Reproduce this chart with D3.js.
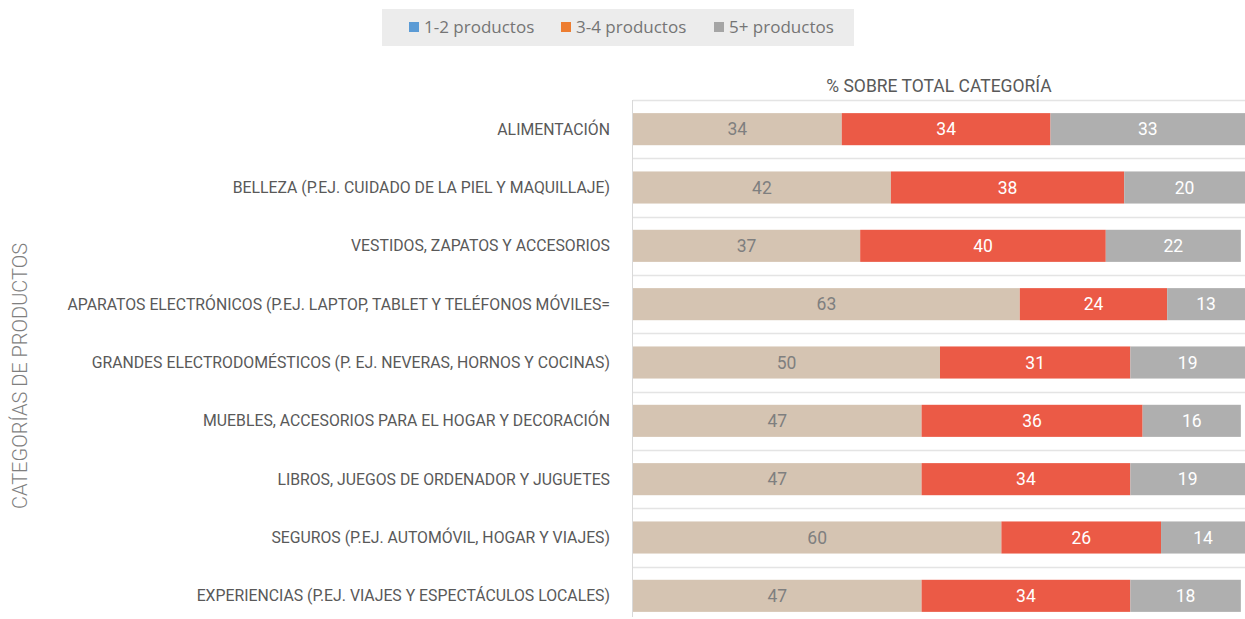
<!DOCTYPE html>
<html>
<head>
<meta charset="utf-8">
<script src="https://cdn.jsdelivr.net/npm/d3@7"></script>
<style>
  body { margin: 0; background: #fff; }
  svg { display: block; }
</style>
</head>
<body>
<div id="chart"></div>
<script>
const categories = [
  'ALIMENTACIÓN',
  'BELLEZA (P.EJ. CUIDADO DE LA PIEL Y MAQUILLAJE)',
  'VESTIDOS, ZAPATOS Y ACCESORIOS',
  'APARATOS ELECTRÓNICOS (P.EJ. LAPTOP, TABLET Y TELÉFONOS MÓVILES=',
  'GRANDES ELECTRODOMÉSTICOS (P. EJ. NEVERAS, HORNOS Y COCINAS)',
  'MUEBLES, ACCESORIOS PARA EL HOGAR Y DECORACIÓN',
  'LIBROS, JUEGOS DE ORDENADOR Y JUGUETES',
  'SEGUROS (P.EJ. AUTOMÓVIL, HOGAR Y VIAJES)',
  'EXPERIENCIAS (P.EJ. VIAJES Y ESPECTÁCULOS LOCALES)'
]
const p12 = [34, 42, 37, 63, 50, 47, 47, 60, 47]
const p34 = [34, 38, 40, 24, 31, 36, 34, 26, 34]
const p5 = [33, 20, 22, 13, 19, 16, 19, 14, 18]

const seriesNames = ['1-2 productos', '3-4 productos', '5+ productos']
const legendColors = ['#5b9bd5', '#ed7d31', '#a5a5a5']
const barColors = ['#d5c4b2', '#eb5a46', '#afafaf']
const labelColors = ['#7f7f7f', '#ffffff', '#ffffff']

const fullWidth = 1245
const fullHeight = 619

const margin = { top: 100, right: -2, bottom: 2, left: 633 },
  width = fullWidth - margin.left - margin.right,
  height = fullHeight - margin.top - margin.bottom

const svg = d3.select('#chart')
  .append('svg')
  .attr('width', fullWidth)
  .attr('height', fullHeight)

const g = svg.append('g')
  .attr('transform', 'translate(' + margin.left + ',' + margin.top + ')')

const rows = categories.map((c, i) => ({ cat: c, vals: [p12[i], p34[i], p5[i]] }))

const x = d3.scaleLinear().domain([0, 100]).range([0, width])
const y = d3.scaleBand().domain(categories).range([0, 525]).paddingInner(0.45).paddingOuter(0.225)

// horizontal separators
const step = y.step()
g.selectAll('line.sep')
  .data(d3.range(categories.length + 1))
  .enter().append('line')
  .attr('class', 'sep')
  .attr('x1', 0)
  .attr('x2', width)
  .attr('y1', d => Math.round(d * step) + 0.5)
  .attr('y2', d => Math.round(d * step) + 0.5)
  .attr('stroke', '#e4e4e4')
  .attr('stroke-width', 1.5)

// vertical axis line
g.append('line')
  .attr('x1', -0.5).attr('x2', -0.5)
  .attr('y1', 0).attr('y2', height)
  .attr('stroke', '#d9d9d9')

// stacked bars
const stack = d3.stack().keys([0, 1, 2]).value((d, k) => d.vals[k])
const layers = stack(rows)

layers.forEach((layer, k) => {
  const lg = g.append('g').attr('class', 'layer-' + k)
  lg.selectAll('rect')
    .data(layer)
    .enter().append('rect')
    .attr('x', d => x(d[0]))
    .attr('y', d => y(d.data.cat))
    .attr('width', d => x(d[1]) - x(d[0]))
    .attr('height', y.bandwidth())
    .attr('fill', barColors[k])
  lg.selectAll('text')
    .data(layer)
    .enter().append('text')
    .attr('x', d => (x(d[0]) + Math.min(x(d[1]), width - 2)) / 2)
    .attr('y', d => y(d.data.cat) + y.bandwidth() / 2)
    .attr('dy', '0.35em')
    .attr('text-anchor', 'middle')
    .attr('font-family', '"Liberation Sans Narrow", Roboto, sans-serif')
    .attr('font-size', 17.5)
    .attr('fill', labelColors[k])
    .text(d => d.data.vals[k])
})

// category labels
svg.append('g')
  .selectAll('text')
  .data(categories)
  .enter().append('text')
  .attr('x', 610)
  .attr('y', d => margin.top + y(d) + y.bandwidth() / 2)
  .attr('dy', '0.35em')
  .attr('text-anchor', 'end')
  .attr('font-family', 'Roboto, sans-serif')
  .attr('font-size', 15.8)
  .attr('fill', '#595959')
  .text(d => d)

// axis title
svg.append('text')
  .attr('transform', 'translate(27,376) rotate(-90)')
  .attr('text-anchor', 'middle')
  .attr('font-family', 'Roboto, sans-serif')
  .attr('font-weight', 300)
  .attr('font-size', 20)
  .attr('fill', '#7f7f7f')
  .text('CATEGORÍAS DE PRODUCTOS')

// top title
svg.append('text')
  .attr('x', 939)
  .attr('y', 92)
  .attr('text-anchor', 'middle')
  .attr('font-family', 'Roboto, sans-serif')
  .attr('font-size', 17.5)
  .attr('fill', '#595959')
  .text('% SOBRE TOTAL CATEGORÍA')

// legend
const legend = svg.append('g')
legend.append('rect')
  .attr('x', 382).attr('y', 9)
  .attr('width', 472).attr('height', 37)
  .attr('fill', '#ececec')

const legendX = [409, 561, 714]
seriesNames.forEach((s, i) => {
  legend.append('rect')
    .attr('x', legendX[i]).attr('y', 22)
    .attr('width', 10).attr('height', 10)
    .attr('fill', legendColors[i])
  legend.append('text')
    .attr('x', legendX[i] + 15)
    .attr('y', 27)
    .attr('dy', '0.35em')
    .attr('font-family', '"Open Sans", sans-serif')
    .attr('font-size', 17)
    .attr('fill', '#757575')
    .text(s)
})
</script>
</body>
</html>
